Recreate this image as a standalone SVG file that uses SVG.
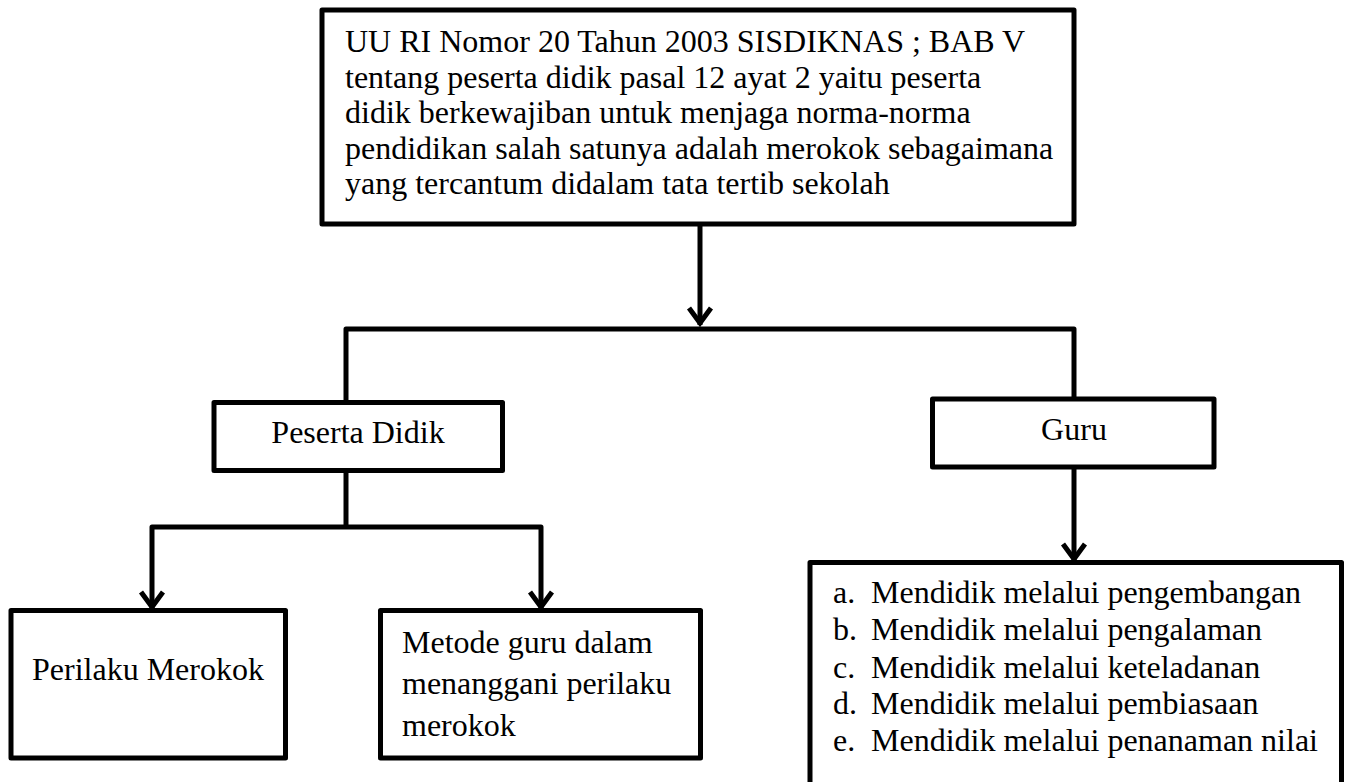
<svg xmlns="http://www.w3.org/2000/svg" width="1349" height="782" viewBox="0 0 1349 782">
<style>
.box{fill:#fff;stroke:#000;stroke-width:5;stroke-linejoin:round}
.t{font-family:"Liberation Serif","Times New Roman",serif;font-size:32px;fill:#000}
.c{text-anchor:middle}
.ln{fill:none;stroke:#000;stroke-width:5;stroke-linejoin:round}
.ah{fill:none;stroke:#000;stroke-width:5;stroke-linejoin:miter;stroke-linecap:butt}
</style>
<defs>
<marker id="arr" markerUnits="userSpaceOnUse" markerWidth="30" markerHeight="30" viewBox="-15 -25 30 30" refX="0" refY="0" orient="auto-start-reverse">
<path d="M-11,-17 L0,-2 L11,-17" fill="none" stroke="#000" stroke-width="5"/>
</marker>
</defs>
<rect width="1349" height="782" fill="#fff"/>
<g id="connectors">
<path class="ln" d="M700,224 V325"/>
<path d="M689,308 L700,323 L711,308" class="ah"/>
<path class="ln" d="M346,402 V329 H1074 V399"/>
<path class="ln" d="M346,471 V527"/>
<path class="ln" d="M152,608 V527 H541 V608"/>
<path d="M141,592 L152,607 L163,592" class="ah"/>
<path d="M530,592 L541,607 L552,592" class="ah"/>
<path class="ln" d="M1074,467 V560"/>
<path d="M1063,544 L1074,559 L1085,544" class="ah"/>
</g>
<g id="node-uu">
<rect class="box" x="322" y="10" width="752" height="214"/>
<text class="t" x="345" y="52">UU RI Nomor 20 Tahun 2003 SISDIKNAS ; BAB V</text>
<text class="t" x="345" y="87.5">tentang peserta didik pasal 12 ayat 2 yaitu peserta</text>
<text class="t" x="345" y="123">didik berkewajiban untuk menjaga norma-norma</text>
<text class="t" x="345" y="158.5">pendidikan salah satunya adalah merokok sebagaimana</text>
<text class="t" x="345" y="194">yang tercantum didalam tata tertib sekolah</text>
</g>
<g id="node-peserta">
<rect class="box" x="214" y="402.5" width="288.5" height="68"/>
<text class="t c" x="358" y="443">Peserta Didik</text>
</g>
<g id="node-guru">
<rect class="box" x="932.5" y="399" width="281.5" height="68"/>
<text class="t c" x="1074" y="440">Guru</text>
</g>
<g id="node-perilaku">
<rect class="box" x="11" y="610.5" width="274.5" height="147.5"/>
<text class="t c" x="148" y="680">Perilaku Merokok</text>
</g>
<g id="node-metode">
<rect class="box" x="380.5" y="610.5" width="320" height="147.5"/>
<text class="t" x="402" y="653">Metode guru dalam</text>
<text class="t" x="402" y="694">menanggani perilaku</text>
<text class="t" x="402" y="736">merokok</text>
</g>
<g id="node-list">
<rect class="box" x="810" y="562.5" width="531.5" height="240"/>
<text class="t" x="833" y="603">a.</text><text class="t" x="871" y="603">Mendidik melalui pengembangan</text>
<text class="t" x="833" y="640">b.</text><text class="t" x="871" y="640">Mendidik melalui pengalaman</text>
<text class="t" x="833" y="678">c.</text><text class="t" x="871" y="678">Mendidik melalui keteladanan</text>
<text class="t" x="833" y="714">d.</text><text class="t" x="871" y="714">Mendidik melalui pembiasaan</text>
<text class="t" x="833" y="751">e.</text><text class="t" x="871" y="751">Mendidik melalui penanaman nilai</text>
</g>
</svg>
